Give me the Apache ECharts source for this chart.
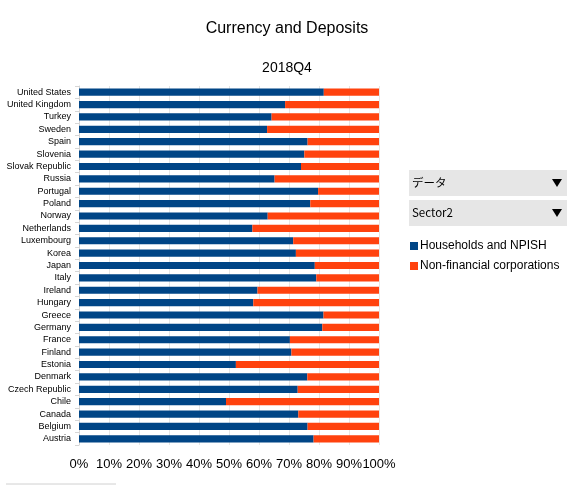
<!doctype html>
<html lang="ja">
<head>
  <meta charset="utf-8">
  <title>Currency and Deposits</title>
  <style>
    html, body { margin: 0; padding: 0; background: #fff; }
    #chart { width: 575px; height: 485px; }
  </style>
</head>
<body>
  <div id="chart"></div>
  <script src="https://cdn.jsdelivr.net/npm/echarts@6/dist/echarts.min.js"></script>
  <script>
    // 国名（下から上へ）
    const countries = [
      "Austria", "Belgium", "Canada", "Chile", "Czech Republic", "Denmark",
      "Estonia", "Finland", "France", "Germany", "Greece", "Hungary", "Ireland",
      "Italy", "Japan", "Korea", "Luxembourg", "Netherlands", "Norway", "Poland",
      "Portugal", "Russia", "Slovak Republic", "Slovenia", "Spain", "Sweden",
      "Turkey", "United Kingdom", "United States"
    ];
    // 家計の割合 (%)
    const households = [
      78.2, 76.2, 73.1, 49.0, 72.9, 76.1,
      52.3, 70.8, 70.3, 81.1, 81.5, 58.1, 59.5,
      79.1, 78.6, 72.3, 71.4, 57.8, 62.9, 77.1,
      79.7, 65.2, 74.0, 75.1, 76.2, 62.7,
      64.2, 68.7, 81.6
    ];
    const corporations = households.map(v => +(100 - v).toFixed(1));
    const seriesNames = ["Households and NPISH", "Non-financial corporations"];
    const seriesColors = ["#004586", "#ff420e"];
    const dropdowns = ["データ", "Sector2"];

    const chart = echarts.init(document.getElementById("chart"));

    const graphic = [];
    dropdowns.forEach((label, i) => {
      const top = 170 + i * 30;
      graphic.push({
        type: "rect", left: 409, top: top,
        shape: { width: 158, height: 26 },
        style: { fill: "#e6e6e6" }
      });
      graphic.push({
        type: "text", left: 412, top: top + 7,
        style: { text: label, fill: "#000", font: "11.5px 'Noto Sans CJK JP', sans-serif" }
      });
      graphic.push({
        type: "polygon",
        shape: { points: [[552, top + 9], [562, top + 9], [557, top + 17]] },
        style: { fill: "#000" }
      });
    });
    graphic.push({
      type: "line",
      shape: { x1: 6, y1: 484, x2: 116, y2: 484 },
      style: { stroke: "#d0d0d0", lineWidth: 1 }
    });

    chart.setOption({
      animation: false,
      textStyle: { fontFamily: "'Liberation Sans', Arial, sans-serif" },
      title: [
        {
          text: "Currency and Deposits", left: 282, top: 16, textAlign: "center",
          textStyle: { fontSize: 16, fontWeight: "normal", color: "#000" }
        },
        {
          text: "2018Q4", left: 282, top: 56, textAlign: "center",
          textStyle: { fontSize: 14, fontWeight: "normal", color: "#000" }
        }
      ],
      legend: {
        data: seriesNames,
        orient: "vertical",
        left: 405, top: 235,
        itemWidth: 8, itemHeight: 8, itemGap: 8,
        icon: "rect",
        textStyle: { fontSize: 12, color: "#000", padding: [0, 0, 0, -3] }
      },
      grid: { left: 79, right: 196, top: 86, height: 359, containLabel: false },
      xAxis: {
        type: "value", min: 0, max: 100, interval: 10,
        axisLine: { show: false },
        axisTick: { show: false },
        axisLabel: { formatter: "{value}%", fontSize: 13, color: "#000", margin: 13 },
        splitLine: { lineStyle: { color: "#e6e6e6" } }
      },
      yAxis: {
        type: "category", data: countries,
        axisLine: { lineStyle: { color: "#d6d6d6" } },
        axisTick: { show: true, length: 4, lineStyle: { color: "#d6d6d6" } },
        axisLabel: { fontSize: 9, color: "#000", margin: 8 },
        splitLine: { show: false }
      },
      series: [
        {
          name: seriesNames[0], type: "bar", stack: "total",
          data: households, barWidth: "58%",
          itemStyle: { color: seriesColors[0] }
        },
        {
          name: seriesNames[1], type: "bar", stack: "total",
          data: corporations, barWidth: "58%",
          itemStyle: { color: seriesColors[1] }
        }
      ],
      graphic: graphic
    });
  </script>
</body>
</html>
